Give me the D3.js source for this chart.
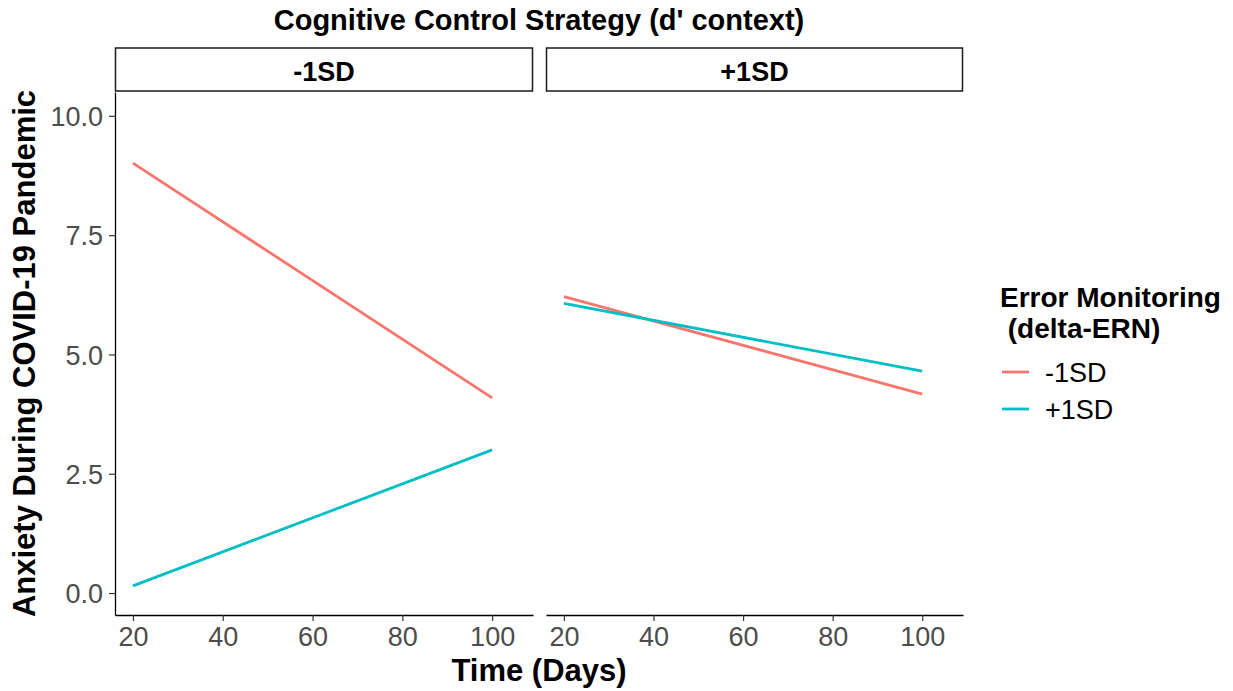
<!DOCTYPE html>
<html>
<head>
<meta charset="utf-8">
<script src="https://cdn.jsdelivr.net/npm/d3@7"></script>
<style>
  body { margin: 0; background: #fff; }
  svg { font-family: "Liberation Sans", Arial, sans-serif; }
</style>
</head>
<body>
<div id="chart"></div>
<script>
// Facets (d' context) and series (delta-ERN)
const facets = ['-1SD', '+1SD'];
const series = ['-1SD', '+1SD'];
const days = [20, 100];

// values at day 20 and day 100, per facet
const lowErn = { '-1SD': [9.01, 4.09], '+1SD': [6.21, 4.17] };
const highErn = { '-1SD': [0.15, 3.0], '+1SD': [6.07, 4.65] };

const xTicks = [20, 40, 60, 80, 100];
const yTicks = [0, 2.5, 5, 7.5, 10];
const colors = ['#F8766D', '#00BFC4'];

const width = 1233, height = 691;
const panels = [{ x0: 115, x1: 533 }, { x0: 546, x1: 963 }];
const panelTop = 92, panelBottom = 615;

const svg = d3.select('#chart').append('svg')
  .attr('width', width)
  .attr('height', height);

const y = d3.scaleLinear().domain([-0.46, 10.5]).range([panelBottom, panelTop]);

// Overall facet title
svg.append('text')
  .attr('x', (panels[0].x0 + panels[1].x1) / 2)
  .attr('y', 30)
  .attr('text-anchor', 'middle')
  .style('font-size', '29px')
  .style('font-weight', 'bold')
  .text("Cognitive Control Strategy (d' context)");

facets.forEach((facet, i) => {
  const p = panels[i];
  const x = d3.scaleLinear().domain([16, 109.1]).range([p.x0, p.x1]);

  // Strip
  svg.append('rect')
    .attr('x', p.x0 + 0.5).attr('y', 48)
    .attr('width', p.x1 - p.x0 - 1).attr('height', 43)
    .attr('fill', '#fff').attr('stroke', '#1a1a1a').attr('stroke-width', 1.5);
  svg.append('text')
    .attr('x', (p.x0 + p.x1) / 2).attr('y', 81)
    .attr('text-anchor', 'middle')
    .style('font-size', '27px').style('font-weight', 'bold')
    .text(facet);

  // X axis
  const xAxis = svg.append('g')
    .attr('transform', `translate(0,${panelBottom})`)
    .call(d3.axisBottom(x).tickValues(xTicks).tickSize(6).tickPadding(4).tickSizeOuter(0));
  xAxis.select('.domain').attr('stroke', '#000').attr('stroke-width', 1.3);
  xAxis.selectAll('.tick line').attr('stroke', '#333').attr('stroke-width', 1.2);
  xAxis.selectAll('.tick text')
    .attr('fill', '#4D4D4D').style('font-size', '27px').attr('dy', '0.78em');

  // Y axis only on first panel
  if (i === 0) {
    const yAxis = svg.append('g')
      .attr('transform', `translate(${p.x0},0)`)
      .call(d3.axisLeft(y).tickValues(yTicks).tickFormat(d3.format('.1f'))
        .tickSize(6).tickPadding(6).tickSizeOuter(0));
    yAxis.select('.domain').attr('stroke', '#000').attr('stroke-width', 1.3);
    yAxis.selectAll('.tick line').attr('stroke', '#333').attr('stroke-width', 1.2);
    yAxis.selectAll('.tick text')
      .attr('fill', '#4D4D4D').style('font-size', '27px').attr('dy', '0.36em');
  }

  // Lines
  const line = d3.line().x((d, k) => x(days[k])).y(d => y(d));
  [lowErn, highErn].forEach((s, k) => {
    svg.append('path')
      .datum(s[facet])
      .attr('d', line)
      .attr('fill', 'none')
      .attr('stroke', colors[k])
      .attr('stroke-width', 2.8);
  });
});

// Axis titles
svg.append('text')
  .attr('x', (panels[0].x0 + panels[1].x1) / 2)
  .attr('y', 681)
  .attr('text-anchor', 'middle')
  .style('font-size', '31px').style('font-weight', 'bold')
  .text('Time (Days)');

svg.append('text')
  .attr('transform', `translate(35,${(panelTop + panelBottom) / 2}) rotate(-90)`)
  .attr('text-anchor', 'middle')
  .style('font-size', '31px').style('font-weight', 'bold')
  .text('Anxiety During COVID-19 Pandemic');

// Legend
const legend = svg.append('g').attr('transform', 'translate(1000,0)');
legend.append('text').attr('x', 0).attr('y', 307)
  .style('font-size', '28px').style('font-weight', 'bold')
  .text('Error Monitoring');
legend.append('text').attr('x', 0).attr('y', 338)
  .style('font-size', '28px').style('font-weight', 'bold')
  .attr('xml:space', 'preserve')
  .text(' (delta-ERN)');
series.forEach((s, k) => {
  const cy = 372 + k * 37;
  legend.append('line')
    .attr('x1', 2).attr('x2', 29).attr('y1', cy).attr('y2', cy)
    .attr('stroke', colors[k]).attr('stroke-width', 2.8);
  legend.append('text')
    .attr('x', 45).attr('y', cy + 10)
    .style('font-size', '27px')
    .text(s);
});
</script>
</body>
</html>
